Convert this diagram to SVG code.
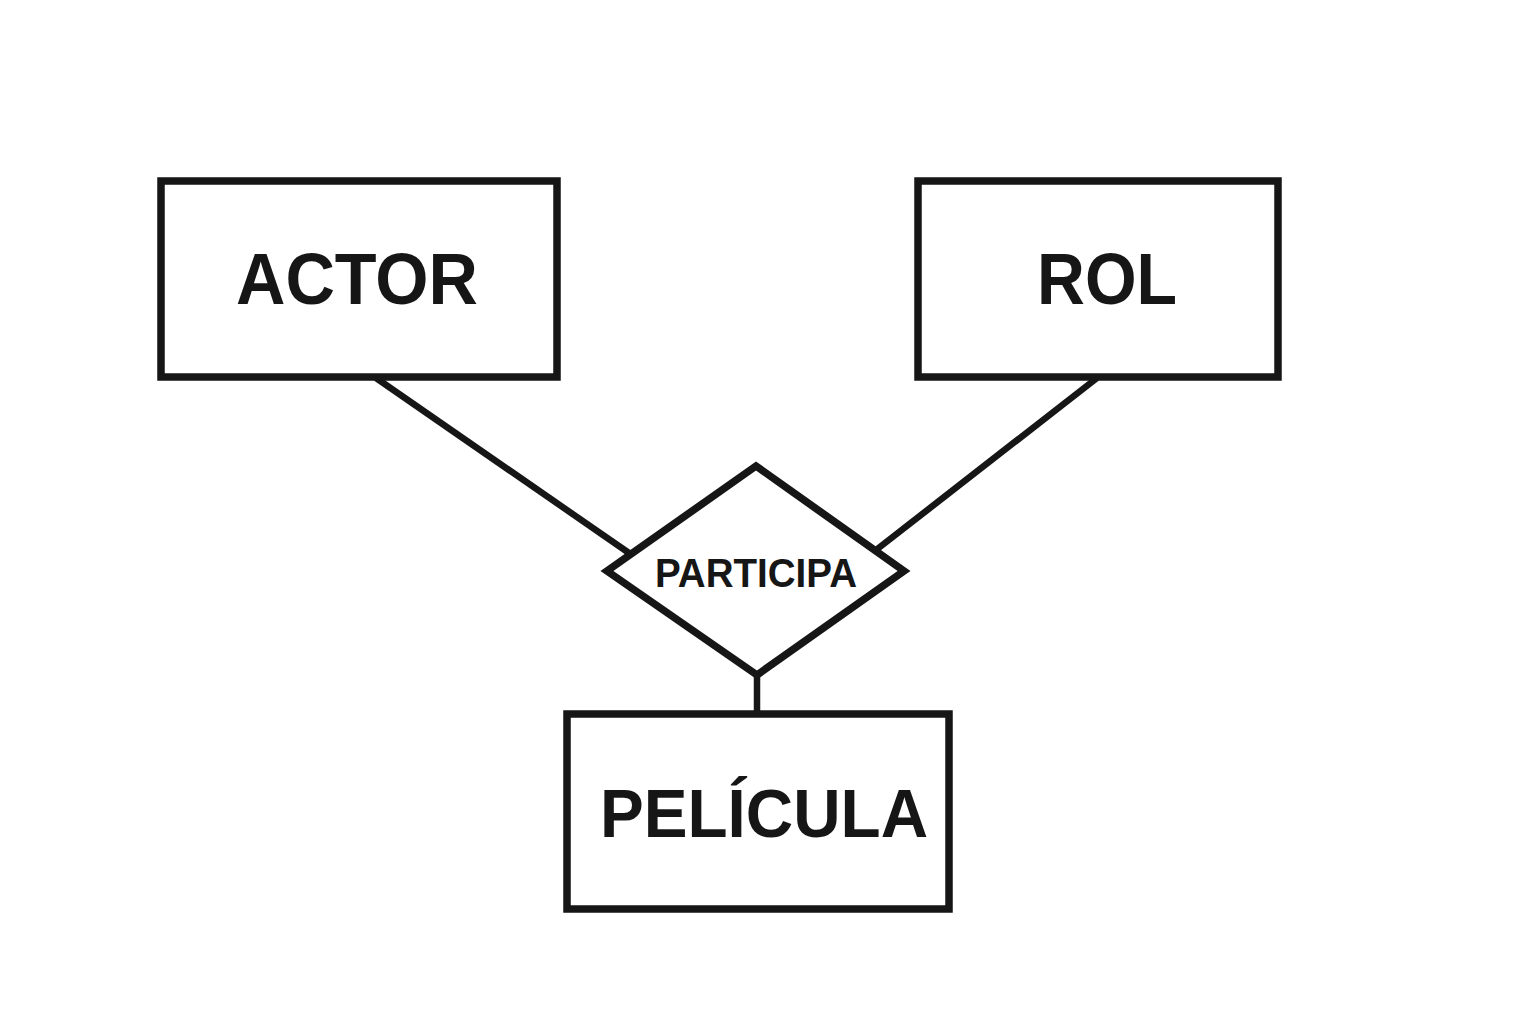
<svg xmlns="http://www.w3.org/2000/svg" width="1536" height="1024" viewBox="0 0 1536 1024">
<style>
.box{fill:#fff;stroke:#161616;stroke-width:7.5}
.conn{stroke:#161616;stroke-width:6.5;fill:none}
.lbl{font-family:"Liberation Sans",Arial,sans-serif;font-weight:bold;fill:#161616;text-anchor:middle}
</style>
<rect width="1536" height="1024" fill="#fff"/>
<g id="connectors">
<line class="conn" x1="376" y1="378" x2="629" y2="553"/>
<line class="conn" x1="1097" y1="378" x2="876" y2="550"/>
<line class="conn" x1="757" y1="674" x2="757" y2="714"/>
</g>
<g id="actor">
<rect class="box" x="161" y="181" width="396" height="196"/>
<text class="lbl" x="357" y="304" font-size="72" textLength="242" lengthAdjust="spacingAndGlyphs">ACTOR</text>
</g>
<g id="rol">
<rect class="box" x="918" y="181" width="360" height="196"/>
<text class="lbl" x="1107" y="304" font-size="72" textLength="140" lengthAdjust="spacingAndGlyphs">ROL</text>
</g>
<g id="participa">
<polygon class="box" stroke-width="6.5" points="756,466 904,571 757,675 607,571"/>
<text class="lbl" x="756" y="587" font-size="41" textLength="202" lengthAdjust="spacingAndGlyphs">PARTICIPA</text>
</g>
<g id="pelicula">
<rect class="box" x="567" y="714" width="382" height="195"/>
<text class="lbl" x="764" y="837" font-size="68" textLength="328" lengthAdjust="spacingAndGlyphs">PELÍCULA</text>
</g>
</svg>
